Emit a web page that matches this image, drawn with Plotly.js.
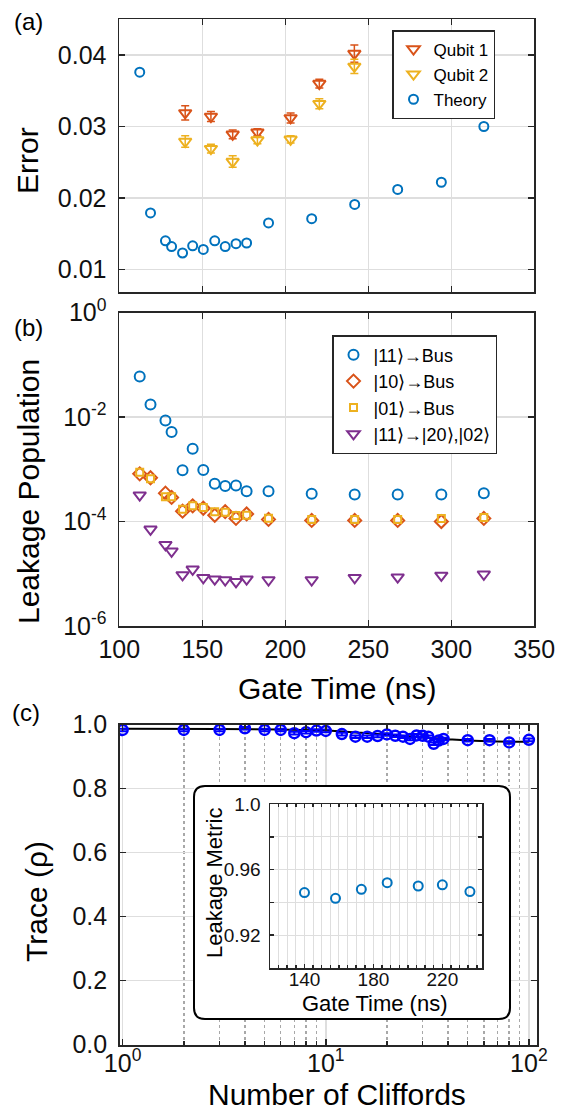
<!DOCTYPE html>
<html><head><meta charset="utf-8">
<script src="https://cdn.plot.ly/plotly-3.0.1.min.js"></script>
<style>html,body{margin:0;padding:0;background:#fff;} #chart{width:561px;height:1110px;}</style>
</head><body><div id="chart"></div>
<script>
// ---------- data ----------
// panel (a)/(b) gate times (ns) for the theory points
const gateTime = [112.3,118.8,127.8,131.5,138.1,144.2,150.6,157.5,163.8,170.3,176.7,189.9,215.9,241.8,267.7,294.0,319.6];
const theoryError = [0.0376,0.0179,0.0140,0.0132,0.0123,0.0133,0.0128,0.0140,0.0132,0.0136,0.0137,0.0165,0.0171,0.0191,0.0212,0.0222,0.0300];
// measured gate times (ns)
const qubitGateTime = [139.7,155.2,168.3,183.2,203.2,220.5,241.6];
const qubit1Error = [0.0319,0.0314,0.0289,0.0292,0.0312,0.0360,0.0402];
const qubit1Err   = [0.0010,0.0007,0.0006,0.0005,0.0007,0.0006,0.0012];
const qubit2Error = [0.0279,0.0269,0.0251,0.0281,0.0282,0.0332,0.0384];
const qubit2Err   = [0.0008,0.0006,0.0008,0.0005,0.0005,0.0007,0.0010];
// panel (b) leakage populations
const leak11Bus = [0.0598,0.0175,0.0086,0.0052,9.6e-4,2.48e-3,9.7e-4,5.3e-4,4.8e-4,4.9e-4,3.8e-4,3.8e-4,3.4e-4,3.3e-4,3.3e-4,3.3e-4,3.5e-4];
const leak10Bus = [8.2e-4,6.9e-4,3.5e-4,2.9e-4,1.58e-4,2.0e-4,1.8e-4,1.32e-4,1.55e-4,1.15e-4,1.4e-4,1.1e-4,1.05e-4,1.05e-4,1.05e-4,1.0e-4,1.15e-4];
const leak01Bus = [8.8e-4,6.6e-4,3.0e-4,3.0e-4,1.73e-4,2.0e-4,1.85e-4,1.55e-4,1.5e-4,1.3e-4,1.32e-4,1.16e-4,1.1e-4,1.1e-4,1.1e-4,1.15e-4,1.2e-4];
const leak11to20 = [3.2e-4,7.1e-5,3.6e-5,2.7e-5,9.5e-6,1.22e-5,8.4e-6,7.9e-6,7.6e-6,7.0e-6,7.9e-6,7.6e-6,7.6e-6,8.4e-6,8.6e-6,9.3e-6,9.8e-6];
// panel (c)
const cliffords = [1,2,3,4,5,6,7,8,9,10,12,14,16,18,20,22,24,26,28,30,32,34,36,38,50,64,80,100];
const traceRho  = [0.983,0.983,0.983,0.988,0.983,0.983,0.973,0.976,0.981,0.980,0.970,0.962,0.962,0.964,0.969,0.965,0.962,0.955,0.966,0.965,0.962,0.940,0.950,0.955,0.951,0.951,0.944,0.952];
const traceErr  = [0.004,0.004,0.004,0.004,0.004,0.004,0.004,0.004,0.004,0.004,0.004,0.004,0.004,0.004,0.004,0.004,0.004,0.004,0.004,0.004,0.004,0.004,0.004,0.004,0.004,0.004,0.004,0.004];
const fitCliffords = [1,3,6,10,15,20,30,40,50,70,100];
const fitTrace     = [0.987,0.986,0.984,0.981,0.974,0.968,0.960,0.954,0.950,0.947,0.946];
// inset
const insetGateTime = [140,158,173,188,206,220,236];
const leakageMetric = [0.946,0.9425,0.948,0.952,0.950,0.9507,0.9466];
// tick labels
const logPopTicks = [1e-6,1e-4,1e-2,1];
const logPopTickText = ['10<sup>-6</sup>','10<sup>-4</sup>','10<sup>-2</sup>','10<sup>0</sup>'];
const insetYTicks = [0.92,0.96,1.0];
const insetYTickText = ['0.92','0.96','1.0'];

// ---------- layout helpers ----------
const W = 561, H = 1110;
const FONT = 'Liberation Sans, Arial, Helvetica, sans-serif';
const C = {blue:'#0072BD', orange:'#D95319', yellow:'#EDB120', purple:'#7E2F8E', pure:'#0000FF'};
const px = v => v / W;
const py = v => 1 - v / H;
const INK = '#262626';

function ax(extra) {
  return Object.assign({
    showline: true, linecolor: INK, linewidth: 1.8, mirror: 'ticks',
    ticks: 'inside', ticklen: 6, tickwidth: 1.5, tickcolor: INK,
    showgrid: true, gridcolor: '#dedede', gridwidth: 1.5, zeroline: false,
    tickfont: {family: FONT, size: 25, color: '#111'}, ticklabelstandoff: 6,
    fixedrange: true
  }, extra);
}

const traces = [
  // panel (a)
  {x: qubitGateTime, y: qubit1Error, xaxis: 'x', yaxis: 'y', name: 'Qubit 1', mode: 'markers', legend: 'legend',
   marker: {symbol: 'triangle-down-open', size: 11, color: C.orange, line: {width: 2, color: C.orange}},
   error_y: {type: 'data', array: qubit1Err, color: C.orange, thickness: 1.5, width: 4}},
  {x: qubitGateTime, y: qubit2Error, xaxis: 'x', yaxis: 'y', name: 'Qubit 2', mode: 'markers', legend: 'legend',
   marker: {symbol: 'triangle-down-open', size: 11, color: C.yellow, line: {width: 2, color: C.yellow}},
   error_y: {type: 'data', array: qubit2Err, color: C.yellow, thickness: 1.5, width: 4}},
  {x: gateTime, y: theoryError, xaxis: 'x', yaxis: 'y', name: 'Theory', mode: 'markers', legend: 'legend',
   marker: {symbol: 'circle-open', size: 9, color: C.blue, line: {width: 2, color: C.blue}}},
  // panel (b)
  {x: gateTime, y: leak11Bus, xaxis: 'x2', yaxis: 'y2', name: '|11⟩→Bus', mode: 'markers', legend: 'legend2',
   marker: {symbol: 'circle-open', size: 10, color: C.blue, line: {width: 2, color: C.blue}}},
  {x: gateTime, y: leak10Bus, xaxis: 'x2', yaxis: 'y2', name: '|10⟩→Bus', mode: 'markers', legend: 'legend2',
   marker: {symbol: 'diamond-open', size: 10, color: C.orange, line: {width: 2, color: C.orange}}},
  {x: gateTime, y: leak01Bus, xaxis: 'x2', yaxis: 'y2', name: '|01⟩→Bus', mode: 'markers', legend: 'legend2',
   marker: {symbol: 'square-open', size: 7, color: C.yellow, line: {width: 2, color: C.yellow}}},
  {x: gateTime, y: leak11to20, xaxis: 'x2', yaxis: 'y2', name: '|11⟩→|20⟩,|02⟩', mode: 'markers', legend: 'legend2',
   marker: {symbol: 'triangle-down-open', size: 11, color: C.purple, line: {width: 2, color: C.purple}}},
  // panel (c)
  {x: fitCliffords, y: fitTrace, xaxis: 'x3', yaxis: 'y3', mode: 'lines', showlegend: false,
   line: {color: '#000', width: 2, shape: 'spline'}},
  {x: cliffords, y: traceRho, xaxis: 'x3', yaxis: 'y3', mode: 'markers', showlegend: false,
   marker: {symbol: 'circle-open', size: 10, color: C.pure, line: {width: 2.5, color: C.pure}},
   error_y: {type: 'data', array: traceErr, color: C.pure, thickness: 2, width: 5}},
  // white inset box (own subplot so it covers panel c)
  {x: [], y: [], xaxis: 'x4', yaxis: 'y4', mode: 'markers', showlegend: false},
  // inset
  {x: insetGateTime, y: leakageMetric, xaxis: 'x5', yaxis: 'y5', mode: 'markers', showlegend: false,
   marker: {symbol: 'circle-open', size: 9, color: C.blue, line: {width: 2, color: C.blue}}}
];

// inset box in paper coordinates
const bx0 = px(194), bx1 = px(510), by0 = py(1019), by1 = py(786);
const rx = 11 / W, ry = 11 / H;
const boxPath = `M ${bx0+rx},${by1} L ${bx1-rx},${by1} Q ${bx1},${by1} ${bx1},${by1-ry} L ${bx1},${by0+ry} Q ${bx1},${by0} ${bx1-rx},${by0} L ${bx0+rx},${by0} Q ${bx0},${by0} ${bx0},${by0+ry} L ${bx0},${by1-ry} Q ${bx0},${by1} ${bx0+rx},${by1} Z`;

function ann(text, x, y, size, extra) {
  return Object.assign({text: text, xref: 'paper', yref: 'paper', x: px(x), y: py(y),
    xanchor: 'center', yanchor: 'middle', showarrow: false,
    font: {family: FONT, size: size, color: '#000'}}, extra || {});
}

const legendStyle = {xanchor: 'left', yanchor: 'top', bgcolor: '#fff', bordercolor: INK, borderwidth: 1.5,
  itemwidth: 30, tracegroupgap: 0};

const layout = {
  width: W, height: H,
  margin: {l: 0, r: 0, t: 0, b: 0},
  paper_bgcolor: '#fff', plot_bgcolor: '#fff',
  font: {family: FONT, color: '#000'},
  showlegend: true,
  xaxis: ax({domain: [px(119.3), px(534.3)], anchor: 'y', range: [100, 350], dtick: 50, tick0: 100, showticklabels: false}),
  yaxis: ax({domain: [py(292.3), py(19.3)], anchor: 'x', range: [0.0068, 0.045], tickvals: [0.01, 0.02, 0.03, 0.04], tickformat: '.2f'}),
  xaxis2: ax({domain: [px(119.3), px(534.3)], anchor: 'y2', range: [100, 350], dtick: 50, tick0: 100, ticklabelstandoff: 0}),
  yaxis2: ax({domain: [py(626), py(312.7)], anchor: 'x2', type: 'log', range: [-6, 0], tickmode: 'array', tickvals: logPopTicks, ticktext: logPopTickText}),
  xaxis3: ax({domain: [px(120), px(537)], anchor: 'y3', type: 'log', range: [-0.013, 2.04], dtick: 1, tick0: 0,
    labelalias: {'1': '10<sup>0</sup>', '10': '10<sup>1</sup>', '100': '10<sup>2</sup>'}, ticklabelstandoff: -5,
    minor: {dtick: 'D1', showgrid: true, griddash: 'dot', gridcolor: '#a8a8a8', gridwidth: 1.5, ticks: 'inside', ticklen: 4, tickcolor: INK}}),
  yaxis3: ax({domain: [py(1044.7), py(724.5)], anchor: 'x3', range: [0, 1.0], dtick: 0.2, tick0: 0, tickformat: '.1f'}),
  xaxis4: {domain: [bx0, bx1], anchor: 'y4', range: [0, 1], visible: false, fixedrange: true},
  yaxis4: {domain: [by0, by1], anchor: 'x4', range: [0, 1], visible: false, fixedrange: true},
  xaxis5: ax({domain: [px(270), px(482)], anchor: 'y5', range: [120, 243], tickmode: 'array', tickvals: [140, 180, 220],
    tickfont: {family: FONT, size: 19, color: '#111'}, ticklen: 4, linewidth: 1.5, gridwidth: 1, ticklabelstandoff: -6,
    minor: {dtick: 5, tick0: 120, showgrid: true, gridcolor: '#dedede', gridwidth: 1, ticks: 'inside', ticklen: 3, tickcolor: INK}}),
  yaxis5: ax({domain: [py(968), py(804)], anchor: 'x5', range: [0.9, 1.0], tickmode: 'array',
    tickvals: insetYTicks, ticktext: insetYTickText,
    tickfont: {family: FONT, size: 19, color: '#111'}, ticklen: 4, linewidth: 1.5, gridwidth: 1, ticklabelstandoff: 4,
    minor: {tickmode: 'linear', tick0: 0.9, dtick: 0.02, showgrid: true, gridcolor: '#dedede', gridwidth: 1, ticks: 'inside', ticklen: 4, tickcolor: INK}}),
  legend: Object.assign({x: px(392), y: py(30), font: {family: FONT, size: 17, color: '#000'}}, legendStyle),
  legend2: Object.assign({x: px(332), y: py(335), font: {family: FONT, size: 18, color: '#000'}}, legendStyle),
  shapes: [{type: 'path', xref: 'paper', yref: 'paper', path: boxPath, layer: 'above', line: {color: '#000', width: 2}, fillcolor: 'rgba(0,0,0,0)'}],
  annotations: [
    ann('(a)', 28, 21, 24),
    ann('(b)', 28, 327, 24),
    ann('(c)', 26, 712, 24),
    ann('Error', 28, 161, 30, {textangle: -90}),
    ann('Leakage Population', 28, 492, 30, {textangle: -90}),
    ann('Gate Time (ns)', 337, 688, 30),
    ann('Trace (ρ)', 36, 902, 30, {textangle: -90}),
    ann('Number of Cliffords', 337, 1094, 30),
    ann('Leakage Metric', 214, 883, 22, {textangle: -90}),
    ann('Gate Time (ns)', 374, 1003, 22)
  ]
};

Plotly.newPlot('chart', traces, layout, {staticPlot: true, displayModeBar: false});
</script>
</body></html>
